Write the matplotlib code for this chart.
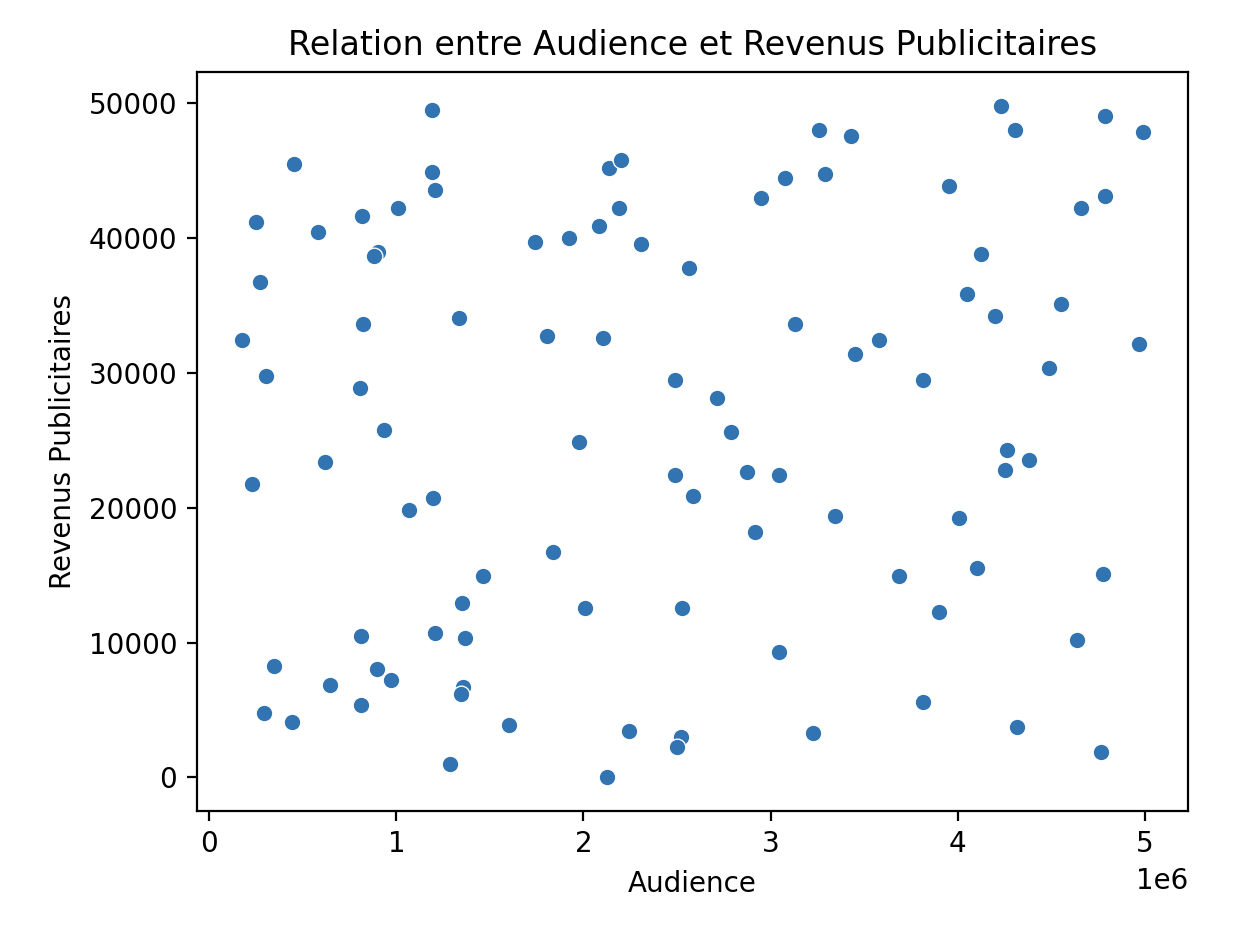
import numpy as np
import pandas as pd
import matplotlib
matplotlib.use('Agg')
import matplotlib.pyplot as plt
import seaborn as sns

# audience in millions, revenue in thousands
audience_m = [
  1.188, 0.450, 1.188, 1.206, 1.006, 0.814, 0.247, 0.579, 0.899, 0.878,
  0.269, 0.823, 1.337, 0.173, 0.301, 0.803, 0.931, 1.743, 1.925, 2.085,
  2.138, 2.203, 2.192, 2.309, 2.566, 1.807, 2.106, 2.491, 1.978,
  0.620, 0.226, 2.491, 2.587, 1.198, 1.068, 1.839, 1.465, 1.348, 2.010,
  2.528, 0.812, 1.207, 1.368, 0.344, 0.897, 0.972, 0.643, 1.358, 1.346,
  0.812, 0.290, 0.440, 1.603, 2.244, 2.523, 2.500, 1.284, 2.128,
  4.232, 4.788, 4.307, 4.991, 3.261, 3.431, 3.077, 3.292, 2.950, 3.955,
  4.788, 4.660, 4.125, 4.051, 4.553, 4.200, 3.130, 3.579, 3.452, 4.970,
  4.489, 3.816, 2.715, 2.790,
  4.264, 4.382, 4.254, 2.876, 3.047, 2.918, 3.346, 4.008, 3.688, 4.105,
  4.778, 3.901, 4.639, 3.047, 3.816, 4.319, 3.228, 4.767,
]
revenus_k = [
  49.50, 45.48, 44.90, 43.57, 42.25, 41.66, 41.19, 40.45, 38.99, 38.65,
  36.77, 33.63, 34.10, 32.45, 29.80, 28.89, 25.80, 39.73, 40.03, 40.92,
  45.20, 45.81, 42.25, 39.59, 37.81, 32.77, 32.62, 29.48, 24.89,
  23.40, 21.79, 22.39, 20.88, 20.73, 19.84, 16.73, 14.97, 12.90, 12.58,
  12.58, 10.50, 10.68, 10.36, 8.28, 8.01, 7.26, 6.82, 6.70, 6.20,
  5.34, 4.74, 4.13, 3.85, 3.41, 2.99, 2.22, 1.02, 0.00,
  49.82, 49.07, 48.01, 47.89, 48.01, 47.57, 44.48, 44.75, 42.97, 43.89,
  43.14, 42.25, 38.84, 35.88, 35.14, 34.25, 33.63, 32.47, 31.43, 32.17,
  30.39, 29.50, 28.17, 25.65,
  24.29, 23.55, 22.81, 22.68, 22.39, 18.21, 19.40, 19.25, 14.95, 15.55,
  15.10, 12.28, 10.21, 9.32, 5.61, 3.71, 3.26, 1.91,
]

df = pd.DataFrame({
  'Audience': np.array(audience_m) * 1e6,
  'Revenus Publicitaires': np.array(revenus_k) * 1000,
})

fig = plt.figure(figsize=(6.22, 4.67), dpi=200)
ax = fig.add_axes([0.1581, 0.1317, 0.7969, 0.7912])
sns.scatterplot(data=df, x='Audience', y='Revenus Publicitaires', ax=ax, color='#3274b2')
ax.set_title('Relation entre Audience et Revenus Publicitaires')
fig.savefig('out.png', dpi=200)
